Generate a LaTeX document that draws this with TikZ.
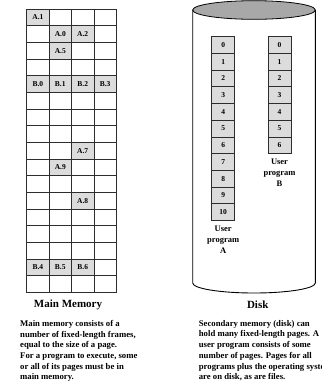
\documentclass[tikz,border=0pt]{standalone}
\usepackage{fontspec}
\setmainfont{Liberation Serif}
\usepackage{xcolor}
\usepackage{tikz}
\usetikzlibrary{positioning}
\definecolor{frameline}{RGB}{45,45,45}
\definecolor{pagefill}{RGB}{220,220,220}
\definecolor{lidfill}{RGB}{168,168,168}
\tikzset{
  frame/.style={draw=frameline, line width=0.7pt, minimum width=22.4pt, minimum height=16.67pt, inner sep=0pt, font=\fontsize{7.5}{8}\selectfont\bfseries},
  page/.style={frame, fill=pagefill, minimum width=23pt},
  caption/.style={font=\fontsize{11}{13}\selectfont\bfseries, inner sep=0pt},
  note/.style={font=\fontsize{8.7}{10.7}\selectfont\bfseries, align=left, anchor=north west, inner sep=0pt},
  owner/.style={font=\fontsize{8.5}{11}\selectfont\bfseries, align=center, inner sep=0pt}
}

\begin{document}
\begin{tikzpicture}[x=1pt, y=-1pt]
        \useasboundingbox (0,0) rectangle (322,384);
        % main memory
        \foreach \r in {1,...,17}
          \foreach \c in {1,...,4}
            \node[frame] (f-\r-\c) at ({26.7+22.4*(\c-0.5)}, {9+16.67*(\r-0.5)}) {};
        \foreach \r/\c/\t in {1/1/A.1, 2/2/A.0, 2/3/A.2, 3/2/A.5, 5/1/B.0, 5/2/B.1, 5/3/B.2, 5/4/B.3,
                              9/3/A.7, 10/2/A.9, 12/3/A.8, 16/1/B.4, 16/2/B.5, 16/3/B.6}
          \node[frame, fill=pagefill] at (f-\r-\c) {\t};
        \node[caption] (mmtitle) at (68,305) {Main Memory};
        \node[note] (mmnote) at (20,320) {Main memory consists of a\\number of fixed-length frames,\\equal to the size of a page.\\For a program to execute, some\\or all of its pages must be in\\main memory.};
        % disk
        \draw[line width=0.9pt] (192.7,10) -- (192.7,283)
          arc[start angle=180, end angle=360, x radius=61.3pt, y radius=10pt] -- (315.3,10);
        \draw[line width=0.8pt, fill=lidfill] (254,10) ellipse[x radius=61.3pt, y radius=9.3pt];
        \foreach \i in {0,...,10}
          \node[page] (pa-\i) at (223.2, {36.7+16.7*(\i+0.5)}) {\i};
        \foreach \i in {0,...,6}
          \node[page] (pb-\i) at (279.5, {36.7+16.7*(\i+0.5)}) {\i};
        \node[owner, below=5pt of pa-10] (ownA) {User\\program\\A};
        \node[owner, below=5pt of pb-6] (ownB) {User\\program\\B};
        \node[caption] (disktitle) at (257.7,305) {Disk};
        \node[note] (disknote) at (198.7,320) {Secondary memory (disk) can\\hold many fixed-length pages. A\\user program consists of some\\number of pages. Pages for all\\programs plus the operating system\\are on disk, as are files.};
      \end{tikzpicture}
\end{document}
